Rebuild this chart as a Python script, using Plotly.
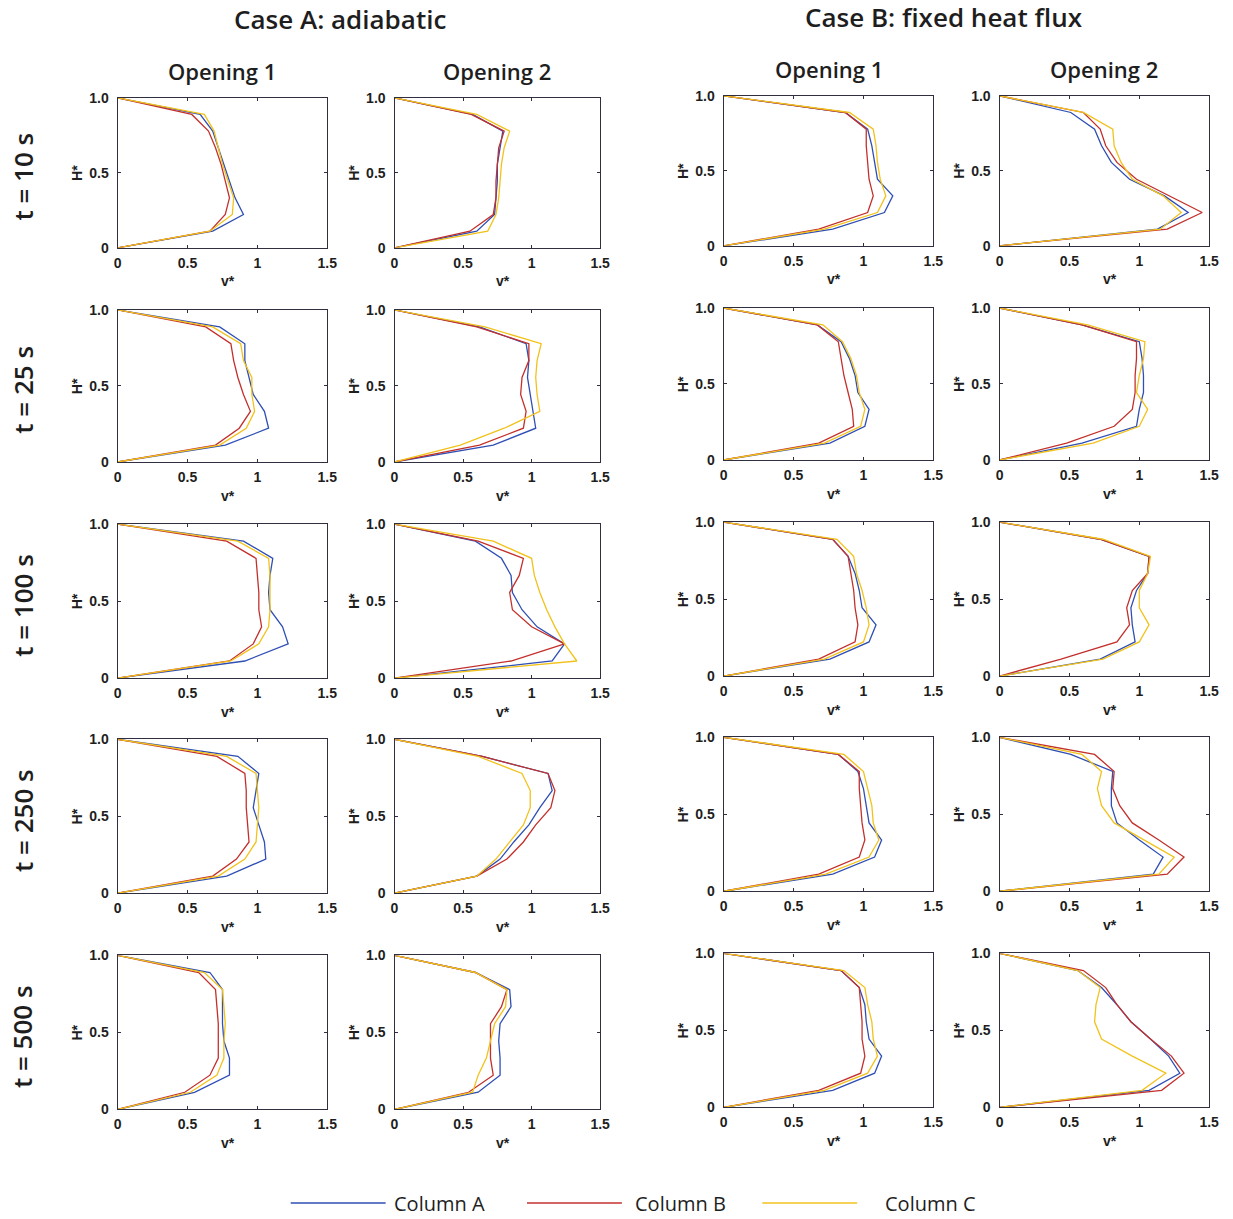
import plotly.graph_objects as go

# ---------------------------------------------------------------------------
# Data: normalised velocity v* at the normalised heights H* of each opening
# ---------------------------------------------------------------------------
H_LEVELS = [0, 0.111, 0.222, 0.333, 0.444, 0.556, 0.667, 0.778, 0.889, 1.0]

TIMES = ["t = 10 s", "t = 25 s", "t = 100 s", "t = 250 s", "t = 500 s"]
CASES = ["Case A: adiabatic", "Case B: fixed heat flux"]
OPENINGS = ["Opening 1", "Opening 2"]
SERIES = ["Column A", "Column B", "Column C"]

X_TICKS = [0, 0.5, 1, 1.5]
X_TICK_TEXT = ["0", "0.5", "1", "1.5"]
Y_TICKS = [0, 0.5, 1.0]
Y_TICK_TEXT = ["0", "0.5", "1.0"]

# Case A, opening 1 (one profile per time step, bottom -> top)
A1_COL_A = [
    [0, 0.68, 0.90, 0.84, 0.80, 0.76, 0.72, 0.68, 0.59, 0],
    [0, 0.77, 1.08, 1.05, 0.97, 0.94, 0.91, 0.91, 0.73, 0],
    [0, 0.91, 1.22, 1.18, 1.09, 1.08, 1.09, 1.11, 0.90, 0],
    [0, 0.78, 1.06, 1.05, 1.01, 0.97, 0.99, 1.01, 0.86, 0],
    [0, 0.55, 0.80, 0.80, 0.76, 0.75, 0.75, 0.75, 0.66, 0],
]
A1_COL_B = [
    [0, 0.66, 0.77, 0.80, 0.77, 0.74, 0.70, 0.65, 0.53, 0],
    [0, 0.70, 0.87, 0.95, 0.90, 0.86, 0.83, 0.81, 0.63, 0],
    [0, 0.80, 0.97, 1.03, 1.01, 1.01, 1.00, 0.99, 0.78, 0],
    [0, 0.68, 0.85, 0.94, 0.93, 0.92, 0.92, 0.91, 0.71, 0],
    [0, 0.48, 0.66, 0.72, 0.72, 0.72, 0.71, 0.70, 0.58, 0],
]
A1_COL_C = [
    [0, 0.66, 0.82, 0.83, 0.79, 0.75, 0.72, 0.69, 0.62, 0],
    [0, 0.73, 0.92, 0.98, 0.96, 0.96, 0.90, 0.88, 0.68, 0],
    [0, 0.81, 1.01, 1.08, 1.09, 1.09, 1.09, 1.08, 0.86, 0],
    [0, 0.72, 0.91, 0.99, 1.00, 1.01, 1.00, 0.99, 0.78, 0],
    [0, 0.52, 0.71, 0.76, 0.76, 0.77, 0.76, 0.75, 0.62, 0],
]

# Case A, opening 2
A2_COL_A = [
    [0, 0.60, 0.73, 0.74, 0.75, 0.75, 0.77, 0.79, 0.57, 0],
    [0, 0.72, 1.03, 1.01, 0.99, 0.97, 0.98, 0.96, 0.62, 0],
    [0, 1.15, 1.24, 1.04, 0.93, 0.86, 0.85, 0.78, 0.59, 0],
    [0, 0.60, 0.77, 0.87, 0.98, 1.06, 1.15, 1.12, 0.64, 0],
    [0, 0.61, 0.77, 0.77, 0.76, 0.77, 0.85, 0.84, 0.59, 0],
]
A2_COL_B = [
    [0, 0.55, 0.72, 0.74, 0.74, 0.75, 0.76, 0.80, 0.56, 0],
    [0, 0.62, 0.94, 0.96, 0.92, 0.93, 0.98, 0.98, 0.60, 0],
    [0, 0.85, 1.24, 1.00, 0.86, 0.84, 0.91, 0.94, 0.61, 0],
    [0, 0.60, 0.82, 0.94, 1.03, 1.14, 1.17, 1.12, 0.64, 0],
    [0, 0.54, 0.72, 0.70, 0.70, 0.70, 0.78, 0.82, 0.59, 0],
]
A2_COL_C = [
    [0, 0.68, 0.74, 0.76, 0.77, 0.78, 0.80, 0.84, 0.60, 0],
    [0, 0.48, 0.80, 1.06, 1.04, 1.03, 1.04, 1.07, 0.66, 0],
    [0, 1.33, 1.24, 1.17, 1.11, 1.06, 1.02, 1.00, 0.72, 0],
    [0, 0.60, 0.74, 0.84, 0.94, 0.99, 0.99, 0.93, 0.61, 0],
    [0, 0.57, 0.61, 0.67, 0.70, 0.73, 0.81, 0.82, 0.59, 0],
]

# Case B, opening 1
B1_COL_A = [
    [0, 0.78, 1.15, 1.21, 1.10, 1.08, 1.06, 1.03, 0.87, 0],
    [0, 0.76, 1.01, 1.04, 0.96, 0.94, 0.90, 0.84, 0.67, 0],
    [0, 0.76, 1.04, 1.09, 0.99, 0.97, 0.94, 0.89, 0.78, 0],
    [0, 0.78, 1.08, 1.13, 1.04, 1.02, 1.00, 0.96, 0.82, 0],
    [0, 0.78, 1.08, 1.13, 1.04, 1.02, 1.01, 0.97, 0.84, 0],
]
B1_COL_B = [
    [0, 0.68, 1.03, 1.07, 1.04, 1.03, 1.02, 1.02, 0.87, 0],
    [0, 0.68, 0.93, 0.92, 0.89, 0.86, 0.84, 0.82, 0.67, 0],
    [0, 0.68, 0.94, 0.96, 0.94, 0.93, 0.91, 0.89, 0.78, 0],
    [0, 0.68, 0.97, 1.01, 0.99, 0.98, 0.97, 0.97, 0.82, 0],
    [0, 0.68, 0.98, 1.01, 0.99, 0.99, 0.98, 0.97, 0.84, 0],
]
B1_COL_C = [
    [0, 0.72, 1.10, 1.16, 1.12, 1.10, 1.09, 1.07, 0.90, 0],
    [0, 0.72, 0.98, 1.01, 0.97, 0.95, 0.91, 0.85, 0.71, 0],
    [0, 0.72, 1.00, 1.04, 1.02, 0.99, 0.95, 0.93, 0.81, 0],
    [0, 0.73, 1.04, 1.11, 1.07, 1.06, 1.03, 1.00, 0.86, 0],
    [0, 0.72, 1.03, 1.10, 1.07, 1.06, 1.03, 1.01, 0.86, 0],
]

# Case B, opening 2
B2_COL_A = [
    [0, 1.13, 1.35, 1.18, 0.93, 0.80, 0.73, 0.68, 0.51, 0],
    [0, 0.59, 0.98, 1.00, 1.03, 1.03, 1.02, 1.00, 0.59, 0],
    [0, 0.72, 0.97, 0.95, 0.94, 0.98, 1.06, 1.07, 0.72, 0],
    [0, 1.10, 1.17, 1.00, 0.84, 0.80, 0.80, 0.81, 0.51, 0],
    [0, 1.07, 1.29, 1.21, 1.08, 0.94, 0.84, 0.73, 0.56, 0],
]
B2_COL_B = [
    [0, 1.20, 1.45, 1.22, 0.98, 0.84, 0.76, 0.72, 0.60, 0],
    [0, 0.48, 0.82, 0.95, 0.97, 0.97, 0.98, 0.98, 0.59, 0],
    [0, 0.44, 0.84, 0.93, 0.91, 0.95, 1.06, 1.07, 0.72, 0],
    [0, 1.20, 1.32, 1.14, 0.95, 0.86, 0.81, 0.82, 0.68, 0],
    [0, 1.16, 1.32, 1.23, 1.08, 0.94, 0.84, 0.76, 0.60, 0],
]
B2_COL_C = [
    [0, 1.15, 1.30, 1.17, 0.95, 0.87, 0.82, 0.81, 0.60, 0],
    [0, 0.67, 1.00, 1.06, 0.98, 1.00, 1.03, 1.04, 0.63, 0],
    [0, 0.74, 1.00, 1.07, 1.00, 1.00, 1.06, 1.08, 0.74, 0],
    [0, 1.14, 1.25, 1.03, 0.82, 0.73, 0.70, 0.73, 0.59, 0],
    [0, 1.02, 1.19, 0.95, 0.73, 0.68, 0.69, 0.72, 0.56, 0],
]

PANEL_COLUMNS = [
    (A1_COL_A, A1_COL_B, A1_COL_C),
    (A2_COL_A, A2_COL_B, A2_COL_C),
    (B1_COL_A, B1_COL_B, B1_COL_C),
    (B2_COL_A, B2_COL_B, B2_COL_C),
]

# ---------------------------------------------------------------------------
# Figure geometry (pixels from the top-left corner) and styling
# ---------------------------------------------------------------------------
W, H = 1233, 1219

COL_X = [(115, 327), (395, 603), (728, 940), (1007, 1219)]
ROW_Y = [(91, 243), (306, 460), (523, 679), (741, 897), (960, 1116)]
COL_DY = [0, 0, -2, -2]          # right-hand block sits slightly higher

CASE_POS = [(340, 11), (951, 9)]
OPENING_Y = [64, 64, 62, 62]
TIME_X = 19

LEG_Y = 1211
LEG_LINES = [(290, 386), (529, 625), (767, 863)]
LEG_TEXT_X = [441, 684, 937]

COLORS = ["#2f4fb4", "#c3302c", "#f2c21c"]
FRAME = "#2f2f3f"
TXT = "#1e1e1e"
TITLE_FONT = "Open Sans"
TICK_FONT = "Liberation Sans"


def fx(x):
    return x / W


def fy(y):
    return 1 - y / H


def label(text, x, y, size, family=TITLE_FONT, weight=600, angle=0):
    return dict(
        text=text, x=fx(x), y=fy(y), xref="paper", yref="paper",
        xanchor="center", yanchor="middle", textangle=angle,
        showarrow=False,
        font=dict(family=family, size=size, color=TXT, weight=weight),
    )


fig = go.Figure()
annotations = []
layout_axes = {}

n = 0
for r in range(len(TIMES)):
    for c in range(len(PANEL_COLUMNS)):
        n += 1
        x0, x1 = COL_X[c]
        yt, yb = ROW_Y[r][0] + COL_DY[c], ROW_Y[r][1] + COL_DY[c]
        xa = "x" if n == 1 else f"x{n}"
        ya = "y" if n == 1 else f"y{n}"
        xkey = "xaxis" if n == 1 else f"xaxis{n}"
        ykey = "yaxis" if n == 1 else f"yaxis{n}"

        for s, series in enumerate(PANEL_COLUMNS[c]):
            fig.add_trace(go.Scatter(
                x=series[r], y=H_LEVELS, mode="lines",
                line=dict(color=COLORS[s], width=1.3),
                name=SERIES[s], showlegend=False,
                xaxis=xa, yaxis=ya, hoverinfo="skip",
            ))

        common = dict(
            showline=True, linecolor=FRAME, linewidth=1.3, mirror="allticks",
            ticks="inside", ticklen=3, tickwidth=1, tickcolor=FRAME,
            showgrid=False, zeroline=False, fixedrange=True,
            tickfont=dict(family=TICK_FONT, size=14, color=TXT, weight="bold"),
        )
        layout_axes[xkey] = dict(
            common, domain=[fx(x0), fx(x1)], range=[0, 1.5],
            tickvals=X_TICKS, ticktext=X_TICK_TEXT, anchor=ya,
            ticklabelstandoff=2,
        )
        layout_axes[ykey] = dict(
            common, domain=[fy(yb), fy(yt)], range=[0, 1.0],
            tickvals=Y_TICKS, ticktext=Y_TICK_TEXT, anchor=xa,
            ticklabelstandoff=5,
        )

        # axis titles
        annotations.append(label("v*", (x0 + x1) / 2 + 6, yb + 34, 14,
                                 family=TICK_FONT, weight="bold"))
        annotations.append(label("H*", x0 - 41, (yt + yb) / 2, 14,
                                 family=TICK_FONT, weight="bold", angle=-90))

# case headers
for text, (xc, yc) in zip(CASES, CASE_POS):
    annotations.append(label(text, xc, yc, 26))

# opening headers
for c, (x0, x1) in enumerate(COL_X):
    annotations.append(label(OPENINGS[c % 2], (x0 + x1) / 2, OPENING_Y[c], 22))

# time step labels down the left side
for r, (yt, yb) in enumerate(ROW_Y):
    annotations.append(label(TIMES[r], TIME_X, (yt + yb) / 2 + 4, 26, angle=-90))

# legend drawn along the bottom
shapes = []
for s in range(len(SERIES)):
    a, b = LEG_LINES[s]
    shapes.append(dict(
        type="line", xref="paper", yref="paper",
        x0=fx(a), x1=fx(b), y0=fy(LEG_Y), y1=fy(LEG_Y),
        line=dict(color=COLORS[s], width=1.5),
    ))
    annotations.append(label(SERIES[s], LEG_TEXT_X[s], LEG_Y, 20, weight=400))

fig.update_layout(
    width=W, height=H, autosize=False,
    margin=dict(l=0, r=0, t=0, b=0),
    paper_bgcolor="white", plot_bgcolor="white",
    showlegend=False,
    annotations=annotations, shapes=shapes,
    **layout_axes,
)

fig.write_html("out.html")
